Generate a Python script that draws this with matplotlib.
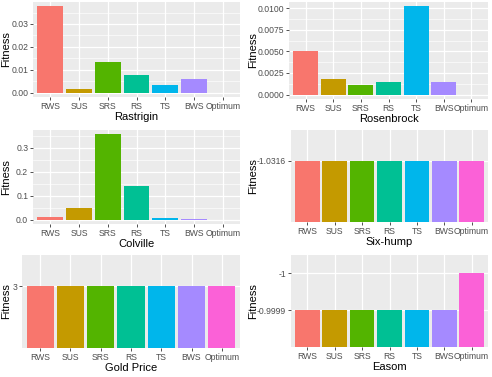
import numpy as np
import matplotlib
matplotlib.use("Agg")
import matplotlib.pyplot as plt
from matplotlib.ticker import MultipleLocator

plt.rcParams["font.family"] = ["Liberation Sans", "DejaVu Sans"]

methods = ["RWS", "SUS", "SRS", "RS", "TS", "BWS", "Optimum"]
colors = ["#F8766D", "#C49A00", "#53B400", "#00C094", "#00B6EB", "#A58AFF", "#FB61D7"]

rastrigin = [0.0377, 0.0015, 0.0135, 0.0078, 0.0033, 0.0060, 0.0]
rosenbrock = [0.0050, 0.00184, 0.00116, 0.00144, 0.0102, 0.0014, 0.0]
colville = [0.0098, 0.047, 0.356, 0.1395, 0.0056, 0.004, 0.0]

# discrete-valued panels: value labels shown as factor levels
sixhump = ["-1.0316"] * 7
sixhump_levels = ["-1.0316"]
goldprice = ["3"] * 7
goldprice_levels = ["3"]
easom = ["-0.9999"] * 6 + ["-1"]
easom_levels = ["-0.9999", "-1"]

W, H = 492, 377
fig = plt.figure(figsize=(W / 100, H / 100), dpi=100)
fig.patch.set_facecolor("white")


def make_ax(l, t, r, b):
    ax = fig.add_axes([l / W, 1 - b / H, (r - l) / W, (b - t) / H])
    ax.set_facecolor("#EBEBEB")
    for s in ax.spines.values():
        s.set_visible(False)
    ax.tick_params(colors="#333333", labelcolor="#4D4D4D", labelsize=6.2, length=2, width=0.6, pad=1.5)
    ax.set_axisbelow(True)
    ax.box = (l, t, r, b)
    return ax


def finish(ax, title, label_x):
    x = np.arange(len(methods))
    ax.set_xticks(x)
    ax.set_xticklabels(methods)
    ax.set_xlim(-0.6, len(methods) - 0.4)
    ax.grid(True, which="major", color="white", linewidth=0.9)
    ax.set_xlabel(title, fontsize=8, labelpad=1)
    ax.set_ylabel("Fitness", fontsize=8)
    l, t, r, b = ax.box
    ax.yaxis.set_label_coords((label_x - l) / (r - l), 0.5)


def cont_panel(box, vals, title, step, fmt, label_x):
    ax = make_ax(*box)
    x = np.arange(len(methods))
    ax.bar(x, vals, width=0.9, color=colors)
    top = max(vals)
    ax.set_ylim(-0.05 * top, top * 1.05)
    ax.yaxis.set_major_locator(MultipleLocator(step))
    ax.yaxis.set_minor_locator(MultipleLocator(step / 2))
    ax.yaxis.set_major_formatter(plt.FuncFormatter(lambda v, p: fmt.format(v)))
    ax.grid(True, which="minor", axis="y", color="white", linewidth=0.45)
    ax.tick_params(axis="y", which="minor", length=0)
    finish(ax, title, label_x)


def disc_panel(box, vals, levels, title, label_x):
    ax = make_ax(*box)
    x = np.arange(len(methods))
    heights = [levels.index(v) + 1 for v in vals]
    ax.bar(x, heights, width=0.9, color=colors)
    ax.set_ylim(0, len(levels) + 0.5)
    ax.set_yticks(np.arange(1, len(levels) + 1))
    ax.set_yticklabels(levels)
    finish(ax, title, label_x)


cont_panel((33, 2, 240, 97), rastrigin, "Rastrigin", 0.01, "{:.2f}", 11)
cont_panel((289, 2, 488, 99), rosenbrock, "Rosenbrock", 0.0025, "{:.4f}", 258)
cont_panel((33, 130, 240, 224), colville, "Colville", 0.1, "{:.1f}", 11)
disc_panel((291, 130, 488, 222), sixhump, sixhump_levels, "Six-hump", 258)
disc_panel((22, 255, 240, 348), goldprice, goldprice_levels, "Gold Price", 11)
disc_panel((291, 255, 488, 347), easom, easom_levels, "Easom", 258)

fig.savefig("out.png", dpi=100)
